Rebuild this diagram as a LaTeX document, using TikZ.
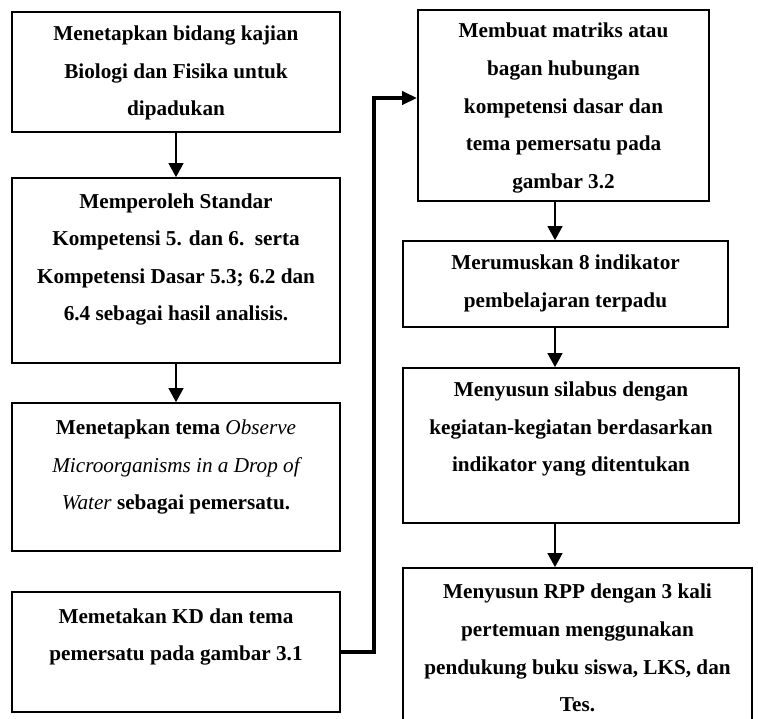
\documentclass[tikz,border=0pt]{standalone}
\usepackage{fontspec}
\setmainfont{Liberation Serif}
\usetikzlibrary{arrows.meta,calc}

\begin{document}
\begin{tikzpicture}[x=0.5pt,y=-0.5pt,
	box/.style={draw,line width=0.9pt,inner sep=0pt},
	txt/.style={align=center,inner sep=0pt,font=\fontsize{10.6}{18.8}\selectfont\bfseries},
	arr/.style={line width=0.6pt,-{Triangle[length=7pt,width=7.5pt]}},
	link/.style={line width=1.8pt,-{Triangle[length=7.5pt,width=6.5pt]}}]
	\useasboundingbox (0,0) rectangle (758,718);
	% left column
	\node[box,minimum width=164pt,minimum height=60pt] (b1) at (176,72) {};
	\node[box,minimum width=164pt,minimum height=92.5pt] (b2) at (176,270.5) {};
	\node[box,minimum width=164pt,minimum height=74pt] (b3) at (176,477) {};
	\node[box,minimum width=164pt,minimum height=60pt] (b4) at (176,652) {};
	% right column
	\node[box,minimum width=145.5pt,minimum height=95.5pt] (b5) at (563.5,105.5) {};
	\node[box,minimum width=162.5pt,minimum height=43pt] (b6) at (565.5,284) {};
	\node[box,minimum width=168pt,minimum height=77.5pt] (b7) at (571,445.5) {};
	\node[box,minimum width=174.5pt,minimum height=101pt] (b8) at (577.5,669) {};
	% texts
	\node[txt] (t1) at (176,73) {Menetapkan bidang kajian\\Biologi dan Fisika untuk\\dipadukan};
	\node[txt] (t2) at (176,259.5) {Memperoleh Standar\\Kompetensi 5. dan 6.\ \ serta\\Kompetensi Dasar 5.3; 6.2 dan\\6.4 sebagai hasil analisis.};
	\node[txt] (t3) at (176,467) {Menetapkan tema {\mdseries\itshape Observe}\\{\mdseries\itshape Microorganisms in a Drop of}\\{\mdseries\itshape Water} sebagai pemersatu.};
	\node[txt] (t4) at (176,637) {Memetakan KD dan tema\\pemersatu pada gambar 3.1};
	\node[txt] (t5) at (563.5,108) {Membuat matriks atau\\bagan hubungan\\kompetensi dasar dan\\tema pemersatu pada\\gambar 3.2};
	\node[txt] (t6) at (565.5,283.5) {Merumuskan 8 indikator\\pembelajaran terpadu};
	\node[txt] (t7) at (571,429) {Menyusun silabus dengan\\kegiatan-kegiatan berdasarkan\\indikator yang ditentukan};
	\node[txt] (t8) at (577.5,648) {Menyusun RPP dengan 3 kali\\pertemuan menggunakan\\pendukung buku siswa, LKS, dan\\Tes.};
	% connectors
	\coordinate (colR) at (555,0);
	\coordinate (bend) at (374,98);
	\draw[arr] (b1.south) -- (b2.north);
	\draw[arr] (b2.south) -- (b3.north);
	\draw[link] (b4.east) -| (bend) -- (bend -| b5.west);
	\draw[arr] (b5.south -| colR) -- (b6.north -| colR);
	\draw[arr] (b6.south -| colR) -- (b7.north -| colR);
	\draw[arr] (b7.south -| colR) -- (b8.north -| colR);
\end{tikzpicture}
\end{document}
